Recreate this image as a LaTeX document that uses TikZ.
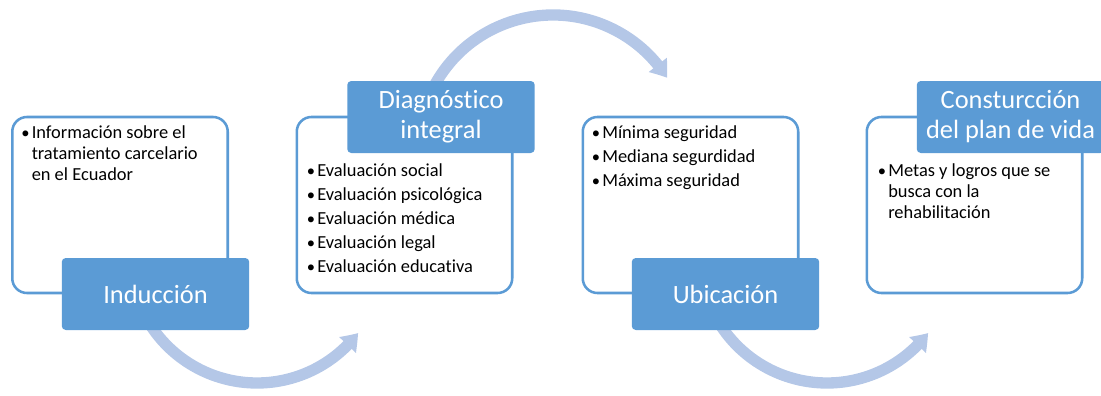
\documentclass[tikz,border=0pt]{standalone}
\usepackage{fontspec}
\setmainfont{Carlito}[Ligatures=NoCommon]
\usetikzlibrary{arrows.meta,bending}
\definecolor{accent}{HTML}{5B9BD5}
\definecolor{arrowblue}{HTML}{B4C7E7}
\newcommand{\bul}{\makebox[8.25pt][l]{\hspace{0.4pt}\scalebox{0.9}{•}}}
\newcommand{\nob}{\hspace*{8.25pt}}
\begin{document}
\begin{tikzpicture}[x=0.75pt,y=-0.75pt,
  panel/.style={draw=accent, line width=1.9pt, fill=white, rounded corners=11pt,
    minimum width=161.6pt, minimum height=132pt, inner sep=0pt},
  lab/.style={fill=accent, rounded corners=3pt, minimum width=140.6pt, minimum height=54pt,
    inner sep=0pt, text=white, align=center, font=\fontsize{19.8pt}{22.5pt}\selectfont},
  content/.style={anchor=base west, inner sep=0pt, font=\fontsize{13.8pt}{15.75pt}\selectfont},
  flow/.style={draw=arrowblue, line width=8.5pt, -{Triangle[width=16.5pt,length=12pt,bend]}}
]
\clip (0,0) rectangle (1101,396);
% curved arrows (behind)
\coordinate (c1) at (257,256);
\coordinate (c2) at (553,150);
\coordinate (c3) at (827,256);
\draw[flow] (c1) ++(212:95.25pt) arc[start angle=212, end angle=322.7, radius=95.25pt];
\draw[flow] (c2) ++(152:101.25pt) arc[start angle=152, end angle=32.3, radius=101.25pt];
\draw[flow] (c3) ++(212:95.25pt) arc[start angle=212, end angle=322.7, radius=95.25pt];
% panels
\node[panel] (p1) at (120,205) {};
\node[panel] (p2) at (404.5,205) {};
\node[panel] (p3) at (690.5,205) {};
\node[panel] (p4) at (974.5,205) {};
% panel contents
\node[content] (t1) at (20.5,138) {\begin{tabular}[t]{@{}l@{}}
\bul Información sobre el\\ \nob tratamiento carcelario\\ \nob en el Ecuador\end{tabular}};
\node[content] (t2) at (306,176) {\begin{tabular}[t]{@{}l@{}}
\bul Evaluación social\\[2.25pt] \bul Evaluación psicológica\\[2.25pt] \bul Evaluación médica\\[2.25pt]
\bul Evaluación legal\\[2.25pt] \bul Evaluación educativa\end{tabular}};
\node[content] (t3) at (591,138) {\begin{tabular}[t]{@{}l@{}}
\bul Mínima seguridad\\[2.25pt] \bul Mediana segurdidad\\[2.25pt] \bul Máxima seguridad\end{tabular}};
\node[content] (t4) at (877,176) {\begin{tabular}[t]{@{}l@{}}
\bul Metas y logros que se\\ \nob busca con la\\ \nob rehabilitación\end{tabular}};
% labels
\node[lab] (l1) at (155.5,294) {Inducción};
\node[lab] (l2) at (441,117) {Diagnóstico\\integral};
\node[lab] (l3) at (725.5,294) {Ubicación};
\node[lab] (l4) at (1010.5,117) {Consturcción\\del plan de vida};
\end{tikzpicture}
\end{document}
